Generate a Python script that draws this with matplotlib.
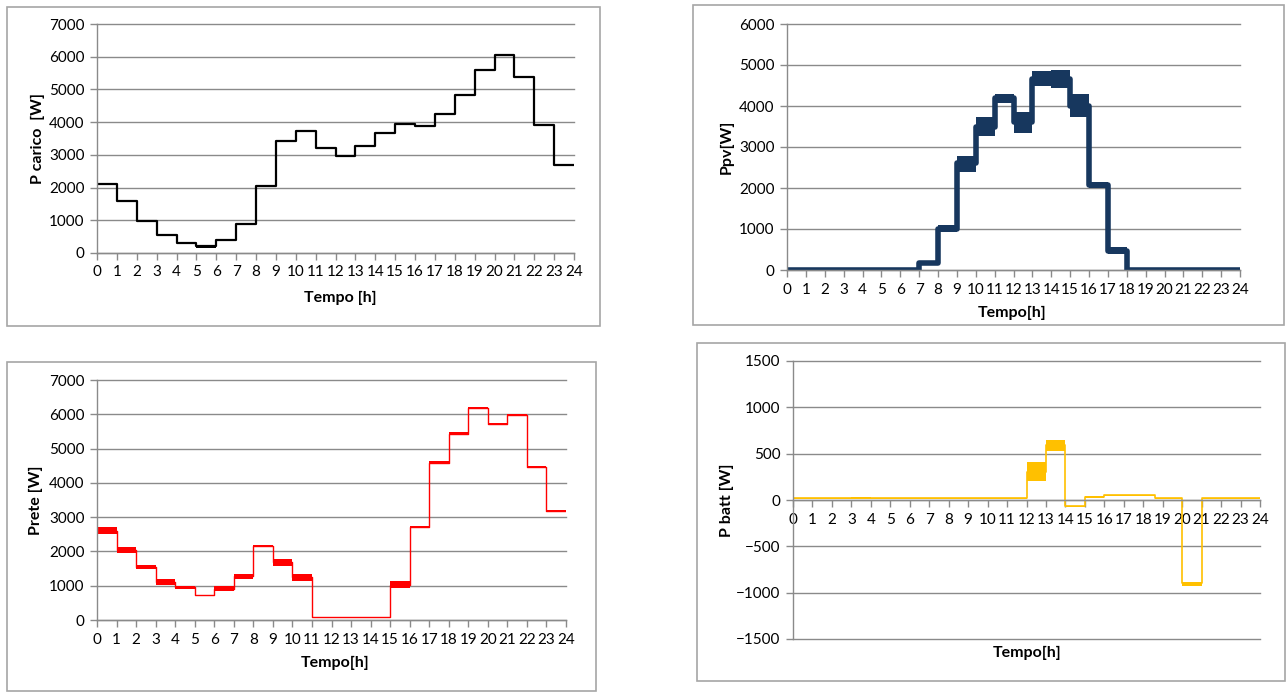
"""
Four Excel-style step charts: load, PV, grid and battery power over one day.
"""

import matplotlib.pyplot as plt
import numpy as np
from matplotlib.patches import Rectangle

# =====================================================================
# DATA - hourly levels (W)
# =====================================================================
HOURS = list(range(25))  # hour edges 0..24

# load (P carico)
load_val = [2100, 1580, 970, 540, 320, 200, 400, 900, 2050, 3420, 3740, 3200,
            2980, 3270, 3680, 3940, 3880, 4240, 4820, 5580, 6040, 5380, 3910, 2690]
load_lo = [2090, 1570, 960, 530, 305, 160, 390, 890, 2030, 3410, 3720, 3190,
           2960, 3260, 3660, 3930, 3870, 4230, 4800, 5560, 6010, 5370, 3900, 2680]
load_hi = [2110, 1590, 980, 550, 335, 250, 410, 910, 2070, 3430, 3760, 3210,
           3000, 3280, 3700, 3950, 3890, 4250, 4840, 5600, 6060, 5390, 3920, 2700]

# photovoltaic (Ppv)
pv_val = [0, 0, 0, 0, 0, 0, 0, 170, 1000, 2600, 3500, 4200,
          3600, 4650, 4650, 4000, 2080, 470, 0, 0, 0, 0, 0, 0]
pv_lo = [-25, -25, -25, -25, -25, -25, -25, 130, 920, 2380, 3280, 4080,
         3350, 4480, 4430, 3720, 2000, 380, -25, -25, -25, -25, -25, -25]
pv_hi = [25, 25, 25, 25, 25, 25, 25, 210, 1100, 2780, 3720, 4290,
         3850, 4860, 4870, 4300, 2150, 560, 25, 25, 25, 25, 25, 25]

# grid (Prete)
grid_val = [2600, 2030, 1550, 1120, 950, 720, 900, 1270, 2150, 1680, 1250, 80,
            80, 80, 80, 1020, 2720, 4580, 5430, 6180, 5720, 5980, 4450, 3180]
grid_lo = [2500, 1950, 1480, 1030, 900, 710, 860, 1200, 2120, 1570, 1150, 75,
           75, 75, 75, 920, 2700, 4540, 5400, 6150, 5700, 5960, 4420, 3150]
grid_hi = [2700, 2130, 1600, 1200, 1000, 730, 980, 1330, 2180, 1780, 1350, 85,
           85, 85, 85, 1130, 2750, 4630, 5470, 6200, 5740, 6000, 4480, 3210]

# battery (P batt) - uneven breakpoints
batt_t = [0, 3, 4, 12, 13, 14, 15, 16, 18.6, 20, 21, 24]
batt_val = [20, 20, 20, 300, 590, -70, 30, 50, 20, -900, 20]
batt_lo = [15, 10, 15, 200, 530, -80, 20, 45, 15, -930, 15]
batt_hi = [25, 35, 25, 410, 650, -60, 45, 55, 25, -880, 25]

# =====================================================================
# STYLE
# =====================================================================
W, H = 1286, 693
GRID_COLOR = "#8a8a8a"
BORDER_COLOR = "#a6a6a6"
FONT = "Lato"
TICK_SIZE = 11
LABEL_SIZE = 11.5

plt.rcParams["font.family"] = [FONT, "DejaVu Sans"]


def fx(px):
    return px / W


def fy(py):
    return 1 - py / H


def add_panel(fig, x0, x1, y_top, y_bot):
    return fig.add_axes([fx(x0), fy(y_bot), fx(x1) - fx(x0), fy(y_top) - fy(y_bot)])


def add_border(fig, x0, y0, x1, y1):
    fig.patches.append(Rectangle((fx(x0), fy(y1)), fx(x1) - fx(x0), fy(y0) - fy(y1),
                                 transform=fig.transFigure, fill=False,
                                 edgecolor=BORDER_COLOR, linewidth=1.2))


def style_axis(ax, ylim, ystep, ylabel, xlabel, ylabel_px, xlabel_px, ax_px):
    # ax_px = (left, right, top, bottom) in pixels
    left, right, top, bottom = ax_px
    ax.set_xlim(0, 24)
    ax.set_ylim(*ylim)
    ax.set_xticks(HOURS)
    ax.set_yticks(np.arange(ylim[0], ylim[1] + 1, ystep))
    ax.yaxis.grid(True, color=GRID_COLOR, linewidth=1)
    for gl in ax.yaxis.get_gridlines():
        gl.set_clip_on(False)
    ax.set_axisbelow(True)
    for s in ("top", "right"):
        ax.spines[s].set_visible(False)
    for s in ("left", "bottom"):
        ax.spines[s].set_color(GRID_COLOR)
        ax.spines[s].set_linewidth(1)
    ax.tick_params(axis="both", length=5, width=1, color=GRID_COLOR,
                   labelsize=TICK_SIZE, labelcolor="black", pad=4)
    ax.set_ylabel(ylabel, fontweight="bold", fontsize=LABEL_SIZE)
    ax.set_xlabel(xlabel, fontweight="bold", fontsize=LABEL_SIZE)
    ax.yaxis.set_label_coords((ylabel_px - left) / (right - left), 0.5)
    lx, ly = xlabel_px
    ax.xaxis.set_label_coords((lx - left) / (right - left),
                              (bottom - ly) / (bottom - top))
    ax.xaxis.label.set_va("center")
    ax.yaxis.label.set_va("center")


def step_series(ax, t, val, lo, hi, color, lw):
    v = np.append(val, val[-1])
    ax.fill_between(t, np.append(lo, lo[-1]), np.append(hi, hi[-1]),
                    step="post", color=color, linewidth=0)
    ax.step(t, v, where="post", color=color, linewidth=lw)


def main():
    fig = plt.figure(figsize=(W / 100, H / 100), dpi=100)

    # panel borders
    add_border(fig, 7, 7, 600, 326)
    add_border(fig, 693, 5, 1284, 325)
    add_border(fig, 7, 362, 596, 691)
    add_border(fig, 697, 343, 1285, 681)

    # --- load
    px = (97, 574, 24, 253)
    ax1 = add_panel(fig, px[0], px[1], px[2], px[3])
    step_series(ax1, HOURS, load_val, load_lo, load_hi, "black", 1.6)
    style_axis(ax1, (0, 7000), 1000, "P carico  [W]", "Tempo [h]",
               38, (340, 298), px)

    # --- PV
    px = (787, 1240, 24, 270)
    ax2 = add_panel(fig, px[0], px[1], px[2], px[3])
    step_series(ax2, HOURS, pv_val, pv_lo, pv_hi, "#17375e", 4.0)
    style_axis(ax2, (0, 6000), 1000, "Ppv[W]", "Tempo[h]",
               727, (1012, 313), px)

    # --- grid
    px = (97, 566, 380, 620)
    ax3 = add_panel(fig, px[0], px[1], px[2], px[3])
    step_series(ax3, HOURS, grid_val, grid_lo, grid_hi, "#ff0000", 1.0)
    style_axis(ax3, (0, 7000), 1000, "Prete [W]", "Tempo[h]",
               36, (335, 663), px)

    # --- battery
    px = (793, 1260, 361, 639)
    ax4 = add_panel(fig, px[0], px[1], px[2], px[3])
    step_series(ax4, batt_t, batt_val, batt_lo, batt_hi, "#ffc000", 1.2)
    style_axis(ax4, (-1500, 1500), 500, "P batt [W]", "Tempo[h]",
               727, (1027, 653), px)
    ax4.spines["bottom"].set_position(("data", 0))

    fig.savefig("out.png", dpi=100)


if __name__ == "__main__":
    main()
